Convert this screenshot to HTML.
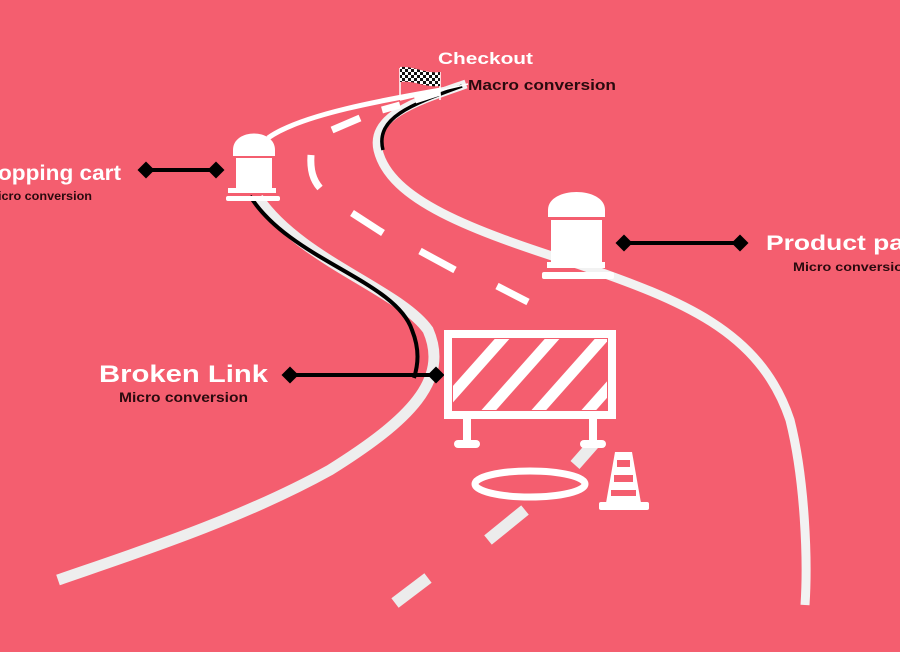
<!DOCTYPE html>
<html><head><meta charset="utf-8"><style>
html,body{margin:0;padding:0;width:900px;height:652px;overflow:hidden;background:#f45e6f}
svg{display:block}
text{font-family:"Liberation Sans",sans-serif;font-weight:bold}
</style></head><body>
<svg width="900" height="652" viewBox="0 0 900 652">
<rect width="900" height="652" fill="#f45e6f"/>
<path d="M465,86 C380,100 300,115 268,138" fill="none" stroke="#fff" stroke-width="5"/>
<path d="M258,198 C300,260 400,290 428,330 C450,380 410,420 330,470 C240,520 130,555 58,580" fill="none" stroke="#eee" stroke-width="11"/>
<path d="M250,196 C290,260 395,280 412,330 C420,350 418,365 414,378" fill="none" stroke="#000" stroke-width="4"/>
<path d="M466,84 C420,100 370,115 378,150 C390,200 470,230 580,265 C680,300 760,330 790,420 C805,480 808,560 805,605" fill="none" stroke="#f2f2f2" stroke-width="9"/>
<path d="M462,86 C410,105 375,118 383,150" fill="none" stroke="#000" stroke-width="3.5"/>
<g stroke="#fff" stroke-width="7" fill="none">
<path d="M440,92 L415,100"/><path d="M400,105 L382,110"/>
<path d="M360,118 L332,130"/>
<path d="M311,155 C310,170 313,180 320,188"/>
<path d="M352,213 L383,233"/>
<path d="M420,251 L455,270"/>
<path d="M497,286 L528,302"/>
</g>
<g stroke="#ececec" stroke-width="12" fill="none">
<path d="M597,440 L575,465"/>
<path d="M525,510 L488,540"/>
<path d="M428,578 L395,603"/>
</g>
<g>
<line x1="400" y1="68" x2="400" y2="100" stroke="#fff" stroke-width="1.5"/>
<line x1="440" y1="72" x2="440" y2="100" stroke="#fff" stroke-width="1.5"/>
<defs><pattern id="ch" width="6" height="6" patternUnits="userSpaceOnUse"><rect width="6" height="6" fill="#fff"/><rect width="3" height="3" fill="#111"/><rect x="3" y="3" width="3" height="3" fill="#111"/></pattern></defs>
<path d="M400,67 C415,66 425,74 440,72 L440,86 C425,88 415,80 400,82 Z" fill="url(#ch)"/>
<line x1="400" y1="100" x2="468" y2="84" stroke="#fff" stroke-width="1.5"/>
</g>
<g>
<path d="M233,150 C233,128 275,128 275,150 Z" fill="#fff"/>
<rect x="233" y="150" width="42" height="6" fill="#fff"/>
<rect x="236" y="158" width="36" height="30" fill="#fff"/>
<rect x="228" y="188" width="48" height="5" fill="#fff"/>
<rect x="226" y="196" width="54" height="5" fill="#fff" rx="2"/>
</g>
<g>
<path d="M548,210 C548,186 605,186 605,210 Z" fill="#fff"/>
<rect x="548" y="210" width="57" height="7" fill="#fff"/>
<rect x="551" y="220" width="51" height="42" fill="#fff"/>
<rect x="547" y="262" width="58" height="6" fill="#fff"/>
<rect x="542" y="272" width="72" height="7" fill="#fff" rx="2"/>
</g>
<g fill="#000">
<line x1="146" y1="170" x2="216" y2="170" stroke="#000" stroke-width="4"/>
<rect x="140" y="164" width="12" height="12" transform="rotate(45 146 170)"/>
<rect x="210" y="164" width="12" height="12" transform="rotate(45 216 170)"/>
<line x1="624" y1="243" x2="740" y2="243" stroke="#000" stroke-width="4"/>
<rect x="618" y="237" width="12" height="12" transform="rotate(45 624 243)"/>
<rect x="734" y="237" width="12" height="12" transform="rotate(45 740 243)"/>
<line x1="290" y1="375" x2="436" y2="375" stroke="#000" stroke-width="4"/>
<rect x="284" y="369" width="12" height="12" transform="rotate(45 290 375)"/>
<rect x="430" y="369" width="12" height="12" transform="rotate(45 436 375)"/>
</g>
<g>
<clipPath id="bc"><rect x="453" y="339" width="154" height="71"/></clipPath>
<rect x="448" y="334" width="164" height="81" fill="none" stroke="#fff" stroke-width="8"/>
<g clip-path="url(#bc)" stroke="#fff" stroke-width="11">
<line x1="430" y1="420" x2="510" y2="330"/>
<line x1="480" y1="420" x2="560" y2="330"/>
<line x1="530" y1="420" x2="610" y2="330"/>
<line x1="580" y1="420" x2="660" y2="330"/>
</g>
<rect x="463" y="415" width="8" height="28" fill="#fff"/>
<rect x="454" y="440" width="26" height="8" rx="4" fill="#fff"/>
<rect x="589" y="415" width="8" height="28" fill="#fff"/>
<rect x="580" y="440" width="26" height="8" rx="4" fill="#fff"/>
<ellipse cx="530" cy="484" rx="55" ry="13" fill="none" stroke="#fff" stroke-width="7"/>
<path d="M615,452 L632,452 L641,503 L606,503 Z" fill="#fff"/>
<rect x="617" y="460" width="13" height="7" fill="#f45e6f"/>
<rect x="614" y="475" width="19" height="7" fill="#f45e6f"/>
<rect x="611" y="490" width="25" height="6" fill="#f45e6f"/>
<rect x="599" y="502" width="50" height="8" rx="2" fill="#fff"/>
</g>
<text x="438" y="64" font-size="17" fill="#fff" textLength="95" lengthAdjust="spacingAndGlyphs">Checkout</text>
<text x="468" y="90" font-size="15" fill="#2a0a0e" textLength="148" lengthAdjust="spacingAndGlyphs">Macro conversion</text>
<text x="-2" y="180" font-size="21" fill="#fff" textLength="123" lengthAdjust="spacingAndGlyphs">opping cart</text>
<text x="-2" y="200" font-size="11.5" fill="#2a0a0e" textLength="94" lengthAdjust="spacingAndGlyphs">icro conversion</text>
<text x="766" y="250" font-size="21" fill="#fff" textLength="138" lengthAdjust="spacingAndGlyphs">Product pa</text>
<text x="793" y="271" font-size="12" fill="#2a0a0e" textLength="110" lengthAdjust="spacingAndGlyphs">Micro conversio</text>
<text x="99" y="382" font-size="24" fill="#fff" textLength="169" lengthAdjust="spacingAndGlyphs">Broken Link</text>
<text x="119" y="402" font-size="13.5" fill="#2a0a0e" textLength="129" lengthAdjust="spacingAndGlyphs">Micro conversion</text>
</svg>
</body></html>
